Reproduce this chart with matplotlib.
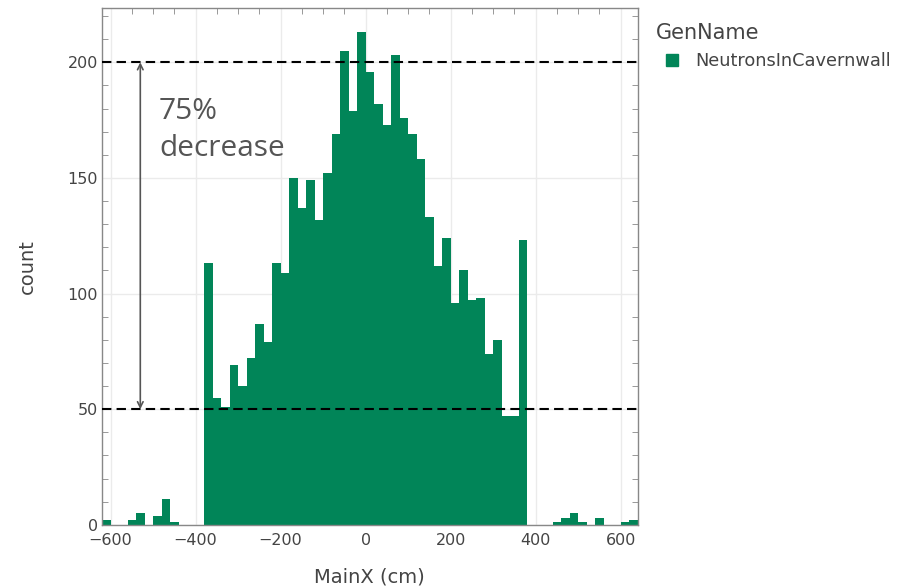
import matplotlib
matplotlib.use("Agg")
import matplotlib.pyplot as plt
import numpy as np
from matplotlib.lines import Line2D
from matplotlib.ticker import MultipleLocator

# histogram bins (cm) and counts
bin_start = -620
bin_width = 20
counts = [
    2, 0, 0, 2, 5, 0, 4, 11, 1, 0, 0, 0,
    113, 55, 51, 69, 60, 72, 87, 79, 113, 109, 150, 137, 149, 132, 152, 169,
    205, 179, 213, 196, 182, 173, 203, 176, 169, 158, 133, 112, 124, 96, 110,
    97, 98, 74, 80, 47, 47, 123,
    0, 0, 0, 1, 3, 5, 1, 0, 3, 0, 0, 1, 2,
]
series_name = "NeutronsInCavernwall"
legend_title = "GenName"
ref_levels = [200, 50]
annotation = "75%\ndecrease"

bar_color = "#018558"
text_color = "#444444"

edges = bin_start + bin_width * np.arange(len(counts) + 1)

fig = plt.figure(figsize=(9.11, 5.87), dpi=100)
ax = fig.add_axes([0.112, 0.106, 0.588, 0.880])

ax.stairs(counts, edges, fill=True, color=bar_color, zorder=2)

for lvl in ref_levels:
    ax.axhline(lvl, color="black", lw=1.5, ls=(0, (4.5, 2.5)), zorder=3)

ax.annotate("", xy=(-530, ref_levels[0]), xytext=(-530, ref_levels[1]),
            arrowprops=dict(arrowstyle="<->", color="#555555", lw=1.2,
                            mutation_scale=10, shrinkA=0, shrinkB=0), zorder=4)
ax.text(-486, 185, annotation, fontsize=21.5, family="Open Sans", color="#555555",
        va="top", ha="left", linespacing=1.38, zorder=4)

ax.set_xlim(edges[0], edges[-1])
ax.set_ylim(0, 223.4)
ax.xaxis.set_major_locator(MultipleLocator(200))
ax.xaxis.set_minor_locator(MultipleLocator(50))
ax.yaxis.set_major_locator(MultipleLocator(50))
ax.yaxis.set_minor_locator(MultipleLocator(10))
ax.grid(True, which="major", color="#ebebeb", lw=1, zorder=0)
ax.set_axisbelow(True)

for s in ax.spines.values():
    s.set_color("#888888")
    s.set_linewidth(1)
ax.tick_params(which="major", length=0, labelsize=11.5, labelcolor=text_color)
ax.tick_params(axis="x", which="major", pad=6)
ax.tick_params(axis="y", which="major", pad=3)
ax.tick_params(which="minor", direction="in", length=4, color="#888888",
               top=True, right=True, bottom=False, left=True)

ax.set_xlabel("MainX (cm)", fontsize=14, color=text_color, labelpad=14)
ax.set_ylabel("count", fontsize=14, color=text_color, labelpad=22)

handle = Line2D([], [], ls="none", marker="s", markersize=8,
                markerfacecolor=bar_color, markeredgecolor=bar_color)
leg = ax.legend([handle], [series_name], loc="upper left",
                bbox_to_anchor=(1.01, 0.995), frameon=False,
                title=legend_title, fontsize=12.8, title_fontsize=15,
                handlelength=1.9, handletextpad=0.35, borderaxespad=0.3,
                labelspacing=0.5)
leg._legend_box.align = "left"
for t in leg.get_texts():
    t.set_color(text_color)
leg.get_title().set_color(text_color)

fig.savefig("out.png", dpi=100)
